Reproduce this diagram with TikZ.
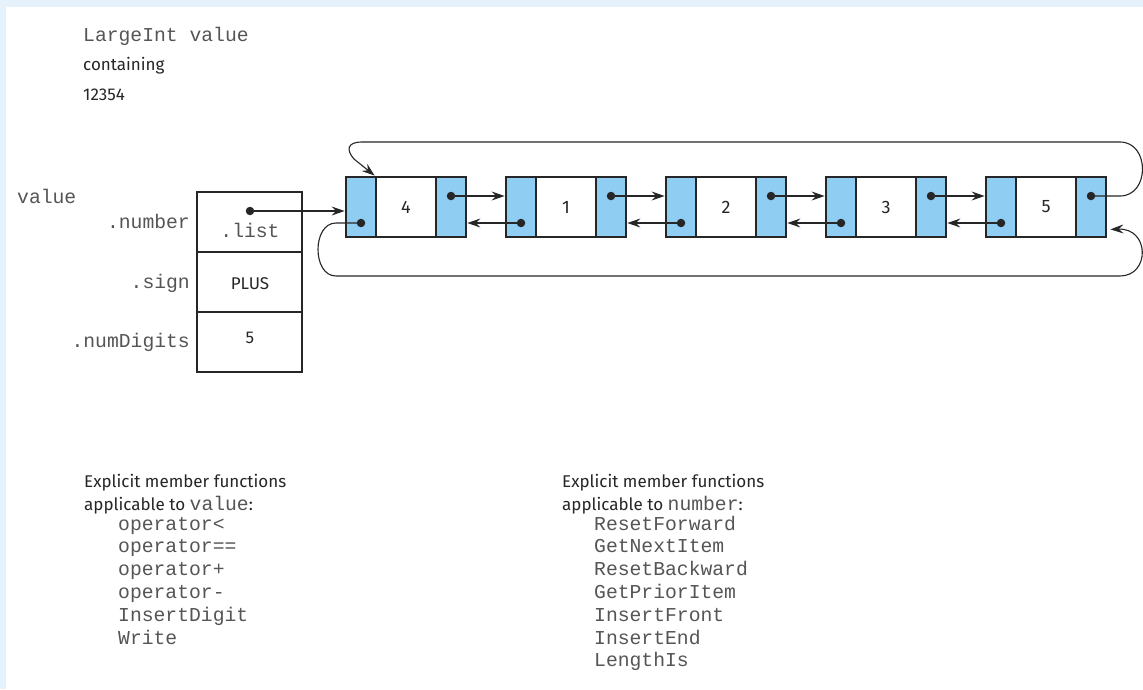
\documentclass[tikz,border=0pt]{standalone}
\usepackage{fontspec}
\setmainfont{Fira Sans}
\newfontfamily\codefont{Liberation Mono}
\usetikzlibrary{arrows.meta,calc}
\definecolor{bgblue}{HTML}{E6F2FB}
\definecolor{cellblue}{HTML}{90CDF2}
\definecolor{ink}{HTML}{262626}
\definecolor{codegray}{HTML}{555555}
\newcommand\sansfnt{\fontsize{17}{20}\selectfont}
\newcommand\codefnt{\codefont\fontsize{19.7}{23}\selectfont}
\newcommand\codetxt[1]{{\codefnt\color{codegray}#1}}
\begin{document}
\begin{tikzpicture}[x=1pt,y=-1pt,
  box/.style={draw=ink,line width=2.8pt,inner sep=0pt,minimum height=60pt},
  side/.style={box,fill=cellblue,minimum width=30pt},
  mid/.style={box,fill=white,minimum width=60pt,font=\fontsize{18}{20}\selectfont,text=ink},
  rec/.style={box,fill=white,minimum width=105pt},
  dot/.style={circle,fill=ink,inner sep=0pt,minimum size=8.5pt},
  conn/.style={draw=ink,line width=1.1pt},
  tip/.style={-{Stealth[length=13pt,width=9pt,inset=4.5pt]}},
  code/.style={font=\codefnt,text=codegray,inner sep=0pt,anchor=base west},
  label/.style={font=\sansfnt,text=ink,inner sep=0pt,anchor=base west},
]
\fill[bgblue] (0,0) rectangle (1143,689);
\fill[white] (6,7) rectangle (1143,689);
\useasboundingbox (0,0) rectangle (1143,689);

% header
\node[code] (t1) at (83,41) {LargeInt value};
\node[label] (t2) at (83,70) {containing};
\node[label] (t3) at (83,100) {12354};

% record
\node[code] (v) at (17,203) {value};
\node[code,anchor=base east] (fnum) at (190,228) {.number};
\node[code,anchor=base east] (fsign) at (190,288) {.sign};
\node[code,anchor=base east] (fnd) at (190,347) {.numDigits};
\node[rec] (r1) at (249.5,222) {};
\node[rec] (r2) at (249.5,282) {};
\node[rec] (r3) at (249.5,342) {};
\node[code,anchor=base] (lst) at (250,237) {.list};
\node[label,anchor=center] (plus) at (250,284) {PLUS};
\node[label,anchor=center] (nd) at (250,338) {5};
\node[dot] (rdot) at (250,211) {};

% list nodes
\foreach \i/\x/\v in {1/346/4,2/506/1,3/666/2,4/826/3,5/986/5}{
  \node[side] (L\i) at (\x+15,207) {};
  \node[mid] (M\i) at (\x+60,207) {\v};
  \node[side] (R\i) at (\x+105,207) {};
  \node[dot] (rd\i) at (\x+105,196) {};
  \node[dot] (ld\i) at (\x+15,223) {};
}

% pointer from record
\draw[conn,tip] (rdot.center) -- (L1.west |- rdot.center);

% forward and backward links
\foreach \i/\j in {1/2,2/3,3/4,4/5}{
  \draw[conn,tip] (rd\i.center) -- (L\j.west |- rd\i.center);
  \draw[conn,tip] (ld\j.center) -- (R\i.east |- ld\j.center);
}

% circular links
\draw[conn,tip] (rd5.center) -- (1120,196)
  .. controls (1150,196) and (1150,142) .. (1120,142)
  -- (362,142) .. controls (347,142) and (346,150) .. (354,159)
  -- (M1.north west);
\draw[conn,tip] (ld1.center) -- (336,223)
  .. controls (312,223) and (312,276) .. (336,276)
  -- (1120,276) .. controls (1150,276) and (1150,228) .. ([shift={(3,-9)}]R5.south east);

% bottom lists
\node[label] (h1) at (84,487) {Explicit member functions};
\node[label] (h2) at (84,510) {applicable to \codetxt{value}:};
\foreach \t [count=\k from 0] in {operator<,operator==,operator+,operator-,InsertDigit,Write}{
  \node[code] (a\k) at (118,530+22.8*\k) {\t};
}
\node[label] (h3) at (562,487) {Explicit member functions};
\node[label] (h4) at (562,510) {applicable to \codetxt{number}:};
\foreach \t [count=\k from 0] in {ResetForward,GetNextItem,ResetBackward,GetPriorItem,InsertFront,InsertEnd,LengthIs}{
  \node[code] (b\k) at (594,530+22.8*\k) {\t};
}
\end{tikzpicture}
\end{document}
